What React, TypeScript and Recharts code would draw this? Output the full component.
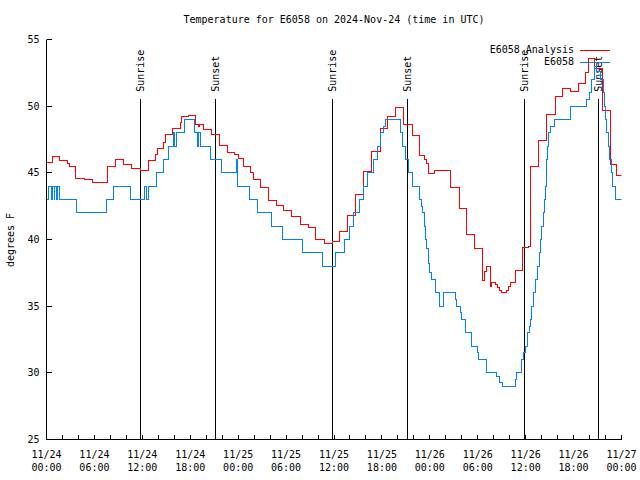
import { Legend, Line, LineChart, ReferenceLine, XAxis, YAxis } from "recharts";

const FONT = "'DejaVu Sans Mono', monospace";
const RED = "#ff0000";
const BLUE = "#0080ff";
const TICK = 5;

// hours since 11/24 00:00 UTC, step starts
const analysisHours = [
  0, 0.69, 1.69, 2.6, 2.82, 3.66, 4.7, 5.74, 7.6, 8.67, 9.62, 10.62, 11.8, 12.71, 13.68, 13.88,
  14.63, 14.84, 15.8, 16.72, 16.93, 17.76, 18.6, 19.0, 19.2, 19.7, 20.69, 21.6, 22.65, 23.6, 24.0,
  24.7, 25.58, 25.9, 26.74, 27.78, 28.75, 29.66, 30.72, 31.75, 32.79, 33.72, 34.76, 35.8, 36.68,
  37.68, 38.68, 39.68, 40.74, 41.78, 42.74, 43.74, 44.7, 45.79, 46.7, 47.29, 47.54, 47.83, 48.63,
  49.7, 50.61, 51.67, 52.64, 53.61, 54.62, 54.8, 55.05, 55.64, 55.77, 56.18, 56.43, 56.68, 57.02,
  57.65, 57.85, 58.06, 58.69, 59.65, 60.35, 60.57, 61.61, 62.66, 63.7, 64.66, 65.58, 66.62, 67.54,
  67.87, 68.58, 69.62, 70.59, 71.42, 72,
];
const analysisTemps = [
  45.8, 46.25, 45.9, 45.7, 45.5, 44.6, 44.5, 44.3, 45.5, 46.0, 45.6, 45.3, 45.15, 45.9, 46.4, 46.8,
  47.3, 47.85, 48.35, 48.8, 49.2, 49.3, 48.6, 48.5, 48.6, 48.25, 47.85, 47.05, 46.5, 46.35, 46.05,
  45.5, 45.0, 44.5, 43.9, 42.9, 42.55, 42.2, 41.7, 41.1, 40.9, 40.0, 39.7, 39.85, 40.6,
  41.8, 43.4, 45.1, 46.6, 48.3, 49.2, 49.9, 48.6, 47.8, 46.28, 45.98, 45.73, 44.93, 45.2,
  45.15, 43.9, 42.35, 40.35, 39.3, 36.9, 37.6, 38.0, 36.5, 36.75, 36.6, 36.4, 36.2, 36.0,
  36.2, 36.5, 36.75, 37.65, 39.4, 39.5, 45.5, 47.4, 49.35, 50.7, 51.3, 51.1, 51.7, 52.5,
  53.55, 52.85, 49.7, 45.6, 44.8, 44.8,
];

const obsHours = [
  0, 0.19, 0.65, 0.75, 0.95, 1.05, 1.3, 1.4, 1.57, 3.78, 7.49, 8.37, 10.46, 12.21, 12.46, 12.71,
  13.8, 14.63, 15.26, 15.88, 16.03, 16.31, 17.22, 18.51, 18.85, 19.04, 19.23, 19.44, 20.54, 21.95,
  23.74, 23.86, 25.4, 26.46, 28.12, 29.59, 32.09, 34.51, 36.23, 37.35, 37.96, 38.4, 39.24, 39.74,
  40.19, 40.94, 41.44, 41.86, 42.19, 42.44, 44.28, 44.62, 44.91, 45.32, 45.78, 46.7, 47.0, 47.13,
  47.29, 47.45, 47.63, 47.79, 47.95, 48.17, 48.75, 49.2, 49.71, 51.21, 51.38, 51.89, 52.01, 52.46,
  53.26, 54.01, 54.14, 55.14, 56.4, 56.75, 57.1, 58.77, 58.9, 59.53, 59.73, 59.94, 60.23, 60.48,
  60.57, 60.78, 60.98, 61.28, 61.53, 61.69, 61.82, 62.03, 62.23, 62.36, 62.45, 62.57, 62.66, 62.78,
  62.86, 63.07, 63.61, 65.58, 67.67, 67.96, 68.29, 68.62, 68.92, 69.33, 69.75, 69.87, 70.05, 70.17,
  70.38, 70.5, 70.71, 70.88, 71.21, 72,
];
const obsTemps = [
  43, 44, 43, 44, 43, 44, 43, 44, 43, 42, 43, 44, 43, 44, 43, 44,
  45, 46, 47, 48, 47, 48, 49, 48, 47, 48, 47, 47, 46, 45,
  46, 44, 43, 42, 41, 40, 39, 38, 39, 40, 41, 42, 43, 44,
  45, 46, 47, 48, 48.5, 49, 48, 47, 46, 45, 44, 43, 42.5, 42,
  41, 40, 39.3, 38.2, 37.5, 37, 36, 35, 36, 35.5, 35, 34.5, 34, 33,
  32, 31.5, 31, 30, 29.7, 29.3, 29, 29.5, 30, 31, 31.5, 32, 33, 33.5,
  34, 35, 36, 37, 38, 39, 40, 41, 42, 43, 44, 45, 46, 47,
  48, 48.5, 49, 50, 50.5, 51, 52, 53, 52.6, 52, 51, 50, 49, 48,
  47, 46, 45, 44, 43, 43,
];

const sunHours = [11.75, 21.14, 35.8, 45.2, 59.85, 69.17];
const sunLabels = ["Sunrise", "Sunset", "Sunrise", "Sunset", "Sunrise", "Sunset"];
const SUN_TOP = 50.55;

const labelHours = [0, 6, 12, 18, 24, 30, 36, 42, 48, 54, 60, 66, 72];
const labelDates = ["11/24", "11/24", "11/24", "11/24", "11/25", "11/25", "11/25", "11/25", "11/26", "11/26", "11/26", "11/26", "11/27"];
const labelTimes = ["00:00", "06:00", "12:00", "18:00", "00:00", "06:00", "12:00", "18:00", "00:00", "06:00", "12:00", "18:00", "00:00"];
const yTicks = [25, 30, 35, 40, 45, 50, 55];
const xTicks = Array.from({ length: 37 }, (_, i) => i * 2);

const analysisRows = analysisHours.map((h, i) => ({ h, v: analysisTemps[i] }));
const obsRows = obsHours.map((h, i) => ({ h, v: obsTemps[i] }));

function BottomTick({ x, y, payload }: any) {
  const i = labelHours.indexOf(payload.value);
  return (
    <g>
      <line x1={x} x2={x} y1={y} y2={y - TICK} stroke="#000" shapeRendering="crispEdges" />
      {i >= 0 && (
        <text x={x} y={y + 18} textAnchor="middle" fontSize={10} fontFamily={FONT} fill="#000">
          <tspan x={x}>{labelDates[i]}</tspan>
          <tspan x={x} dy={13}>{labelTimes[i]}</tspan>
        </text>
      )}
    </g>
  );
}

function TopTick({ x, y }: any) {
  return <line x1={x} x2={x} y1={y} y2={y + TICK} stroke="#000" shapeRendering="crispEdges" />;
}

function LeftTick({ x, y, payload }: any) {
  return (
    <g>
      <line x1={x} x2={x + TICK} y1={y} y2={y} stroke="#000" shapeRendering="crispEdges" />
      <text x={x - 7} y={y + 3.6} textAnchor="end" fontSize={10} fontFamily={FONT} fill="#000">
        {payload.value}
      </text>
    </g>
  );
}

function RightTick({ x, y }: any) {
  return <line x1={x} x2={x - TICK} y1={y} y2={y} stroke="#000" shapeRendering="crispEdges" />;
}

function SunLabel({ viewBox, text }: any) {
  const x = viewBox.x + 3.6;
  const y = viewBox.y - 7;
  return (
    <text transform={`translate(${x},${y}) rotate(-90)`} fontSize={10} fontFamily={FONT} fill="#000">
      {text}
    </text>
  );
}

function KeyBox() {
  const rows = [
    { name: "E6058 Analysis", color: RED },
    { name: "E6058", color: BLUE },
  ];
  return (
    <div style={{ fontFamily: FONT, fontSize: 10 }}>
      {rows.map((r) => (
        <div key={r.name} style={{ display: "flex", alignItems: "center", height: 12.3 }}>
          <span style={{ width: 94, textAlign: "right", lineHeight: "12px" }}>{r.name}</span>
          <svg width={36} height={12} style={{ display: "block" }}>
            <line x1={6} x2={36} y1={6.5} y2={6.5} stroke={r.color} />
          </svg>
        </div>
      ))}
    </div>
  );
}

export default function App() {
  return (
    <div style={{ position: "absolute", left: 0, top: 0, width: 640, height: 480, background: "#fff" }}>
      <style>{`body{margin:0}`}</style>
      <div
        style={{
          position: "absolute", left: 0, top: 14, width: 668, textAlign: "center",
          fontFamily: FONT, fontSize: 10, lineHeight: "12px", color: "#000",
        }}
      >
        Temperature for E6058 on 2024-Nov-24 (time in UTC)
      </div>
      <div
        style={{
          position: "absolute", left: -39.5, top: 234, width: 100, height: 12, textAlign: "center",
          fontFamily: FONT, fontSize: 10, lineHeight: "12px", transform: "rotate(-90deg)", color: "#000",
        }}
      >
        degrees F
      </div>
      <LineChart width={640} height={480} margin={{ top: 39.5, right: 18.5, bottom: 0, left: 0.5 }}>
        <XAxis
          xAxisId="b" type="number" dataKey="h" domain={[0, 72]} ticks={xTicks} interval={0}
          orientation="bottom" height={40.5} allowDataOverflow tickSize={0} tickMargin={0}
          axisLine={{ stroke: "#000" }} tickLine={false} tick={(p: any) => <BottomTick {...p} />}
        />
        <XAxis
          xAxisId="t" type="number" dataKey="h" domain={[0, 72]} ticks={xTicks} interval={0}
          orientation="top" height={0} allowDataOverflow tickSize={0} tickMargin={0}
          axisLine={{ stroke: "#000" }} tickLine={false} tick={(p: any) => <TopTick {...p} />}
        />
        <YAxis
          yAxisId="l" type="number" domain={[25, 55]} ticks={yTicks} interval={0} width={46}
          allowDataOverflow tickSize={0} tickMargin={0} axisLine={{ stroke: "#000" }} tickLine={false}
          tick={(p: any) => <LeftTick {...p} />}
        />
        <YAxis
          yAxisId="r" orientation="right" type="number" domain={[25, 55]} ticks={yTicks} interval={0}
          width={0} allowDataOverflow tickSize={0} tickMargin={0} axisLine={{ stroke: "#000" }}
          tickLine={false} tick={(p: any) => <RightTick {...p} />}
        />
        {sunHours.map((h, i) => (
          <ReferenceLine
            key={h} xAxisId="b" yAxisId="l" stroke="#000" strokeWidth={1} shapeRendering="crispEdges"
            segment={[{ x: h, y: SUN_TOP }, { x: h, y: 25 }]}
            label={(p: any) => <SunLabel {...p} text={sunLabels[i]} />}
          />
        ))}
        <Line
          xAxisId="b" yAxisId="l" data={analysisRows} dataKey="v" name="E6058 Analysis" type="stepAfter"
          stroke={RED} strokeWidth={1} dot={false} isAnimationActive={false} shapeRendering="crispEdges"
        />
        <Line
          xAxisId="b" yAxisId="l" data={obsRows} dataKey="v" name="E6058" type="stepAfter"
          stroke={BLUE} strokeWidth={1} dot={false} isAnimationActive={false} shapeRendering="crispEdges"
        />
        <Legend
          layout="vertical" verticalAlign="middle" align="center" content={() => <KeyBox />}
          wrapperStyle={{ left: 480, top: 44, width: 140, height: 26 }}
        />
      </LineChart>
    </div>
  );
}
